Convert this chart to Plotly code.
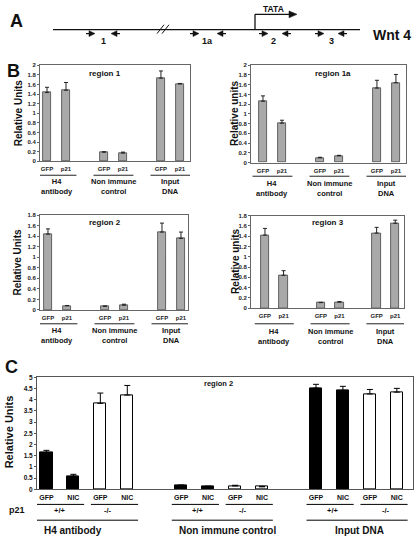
import plotly.graph_objects as go

W, H = 416, 538
def X(px): return px / W
def Y(py): return 1 - py / H

# ---------------- data ----------------
B_pos = [0, 1, 3, 4, 6, 7]
B_ticks = ["GFP", "p21", "GFP", "p21", "GFP", "p21"]
B_groups = ["H4<br>antibody", "Non immune<br>control", "Input<br>DNA"]
B_group_center = [0.5, 3.5, 6.5]

r1_vals = [1.43, 1.48, 0.19, 0.17, 1.73, 1.61]
r1_err = [0.11, 0.16, 0.005, 0.02, 0.15, 0.01]
r1a_vals = [1.26, 0.81, 0.10, 0.14, 1.53, 1.64]
r1a_err = [0.11, 0.06, 0.01, 0.01, 0.16, 0.17]
r2_vals = [1.44, 0.08, 0.07, 0.09, 1.48, 1.36]
r2_err = [0.10, 0.005, 0.005, 0.02, 0.17, 0.12]
r3_vals = [1.42, 0.64, 0.11, 0.12, 1.46, 1.65]
r3_err = [0.13, 0.09, 0.005, 0.01, 0.11, 0.06]

C_pos = [0, 1, 2, 3, 5, 6, 7, 8, 10, 11, 12, 13]
C_ticks = ["GFP", "NIC"] * 6
C_vals = [1.63, 0.59, 3.84, 4.21, 0.17, 0.12, 0.15, 0.11, 4.52, 4.42, 4.26, 4.34]
C_err = [0.11, 0.08, 0.46, 0.43, 0.02, 0.02, 0.03, 0.02, 0.17, 0.18, 0.20, 0.17]
C_fill = ["black", "black", "white", "white"] * 3
C_geno = ["+/+", "-/-"] * 3
C_geno_center = [0.5, 2.3, 5.6, 7.3, 10.6, 12.6]
C_groups = ["H4 antibody", "Non immune control", "Input DNA"]
C_group_center = [1.0, 6.7, 11.6]

FONT = "Arial, Liberation Sans, sans-serif"
GRAY = "#a9a9a9"

fig = go.Figure()
annotations = []
shapes = []
layout_axes = {}

def ann(x, y, text, size, xref="paper", yref="paper", angle=0, color="#111"):
    annotations.append(dict(x=x, y=y, xref=xref, yref=yref, text=text, showarrow=False,
                            xanchor="center", yanchor="middle", textangle=angle,
                            font=dict(size=size, family=FONT, color=color)))

# ---------------- panel B ----------------
panels = [
    (r1_vals, r1_err, "x", "y", (40, 190), (62, 159.3), [-0.37, 7.53], 2.0, "region 1", "Relative Units", (105, 70), 18,
     (167, 173.5, 185)),
    (r1a_vals, r1a_err, "x2", "y2", (251, 406), (62, 160.7), [-0.63, 7.53], 2.0, "region 1a", "Relative units", (333, 70), 235,
     (169, 174.5, 187)),
    (r2_vals, r2_err, "x3", "y3", (40, 188), (214, 310), [-0.42, 7.37], 1.8, "region 2", "Relative Units", (105, 221), 18,
     (317, 324, 336)),
    (r3_vals, r3_err, "x4", "y4", (251, 404), (214.3, 308.3), [-0.75, 7.47], 1.8, "region 3", "Relative units", (328, 221), 236,
     (315, 324, 337)),
]

for i, (vals, err, xa, ya, xd, yd, xr, ymax, title, ytitle, tpos, ytx, lab) in enumerate(panels):
    fig.add_trace(go.Bar(
        x=B_pos, y=vals, xaxis=xa, yaxis=ya, width=0.45,
        marker=dict(color=GRAY, line=dict(color="#444", width=0.8)),
        error_y=dict(type="data", array=err, arrayminus=[0] * len(err), symmetric=False,
                     color="#222", thickness=1, width=2),
        showlegend=False))
    xk = "xaxis" if xa == "x" else "xaxis" + xa[1:]
    yk = "yaxis" if ya == "y" else "yaxis" + ya[1:]
    layout_axes[xk] = dict(domain=[X(xd[0]), X(xd[1])], range=xr, anchor=ya,
                           tickvals=B_pos, ticktext=B_ticks, ticks="", ticklabelstandoff=2,
                           tickfont=dict(size=6, family=FONT, color="#222", weight="bold"),
                           showline=True, linecolor="#666", linewidth=1, mirror=True,
                           showgrid=False, zeroline=False, fixedrange=True)
    layout_axes[yk] = dict(domain=[Y(yd[1]), Y(yd[0])], range=[0, ymax], anchor=xa,
                           dtick=0.2, ticks="outside", ticklen=2, tickcolor="#666",
                           tickfont=dict(size=6, family=FONT, color="#222", weight="bold"),
                           showline=True, linecolor="#666", linewidth=1, mirror=True,
                           showgrid=False, zeroline=False, fixedrange=True)
    ann(X(tpos[0]), Y(tpos[1]), "<b>%s</b>" % title, 8)
    ann(X(ytx), Y((yd[0] + yd[1]) / 2), "<b>%s</b>" % ytitle, 10, angle=-90)
    for g, gc in zip(B_groups, B_group_center):
        shapes.append(dict(type="line", xref=xa, yref="paper", x0=gc - 1.05, x1=gc + 1.05,
                           y0=Y(lab[1]), y1=Y(lab[1]), line=dict(color="#222", width=1)))
        ann(gc, Y(lab[2]), "<b>%s</b>" % g, 7.5, xref=xa)

# ---------------- panel C ----------------
fig.add_trace(go.Bar(
    x=C_pos, y=C_vals, xaxis="x5", yaxis="y5", width=0.45,
    marker=dict(color=C_fill, line=dict(color="black", width=1)),
    error_y=dict(type="data", array=C_err, arrayminus=[0] * len(C_err), symmetric=False,
                 color="black", thickness=1, width=3),
    showlegend=False))
layout_axes["xaxis5"] = dict(domain=[X(37), X(413)], range=[-0.35, 13.6], anchor="y5",
                             tickvals=C_pos, ticktext=C_ticks, ticks="", ticklabelstandoff=1,
                             tickfont=dict(size=7, family=FONT, color="#111", weight="bold"),
                             showline=True, linecolor="#555", linewidth=1, mirror=True,
                             showgrid=False, zeroline=False, fixedrange=True)
layout_axes["yaxis5"] = dict(domain=[Y(491.7), Y(378.3)], range=[0, 5], anchor="x5",
                             dtick=0.5, ticks="outside", ticklen=2, tickcolor="#555",
                             tickfont=dict(size=6.5, family=FONT, color="#111", weight="bold"),
                             showline=True, linecolor="#555", linewidth=1, mirror=True,
                             showgrid=False, zeroline=False, fixedrange=True)
ann(X(218), Y(385), "<b>region 2</b>", 7.5)
ann(X(9), Y(434), "<b>Relative Units</b>", 11, angle=-90)
ann(X(17), Y(513), "<b>p21</b>", 9)
pair_starts = [0, 2, 5, 7, 10, 12]
for ps, gt, gc in zip(pair_starts, C_geno, C_geno_center):
    shapes.append(dict(type="line", xref="x5", yref="paper", x0=ps - 0.35, x1=ps + 1.4,
                       y0=Y(507), y1=Y(507), line=dict(color="black", width=1)))
    ann(gc, Y(513.5), "<b>%s</b>" % gt, 7.5, xref="x5")
for gs, g, gc in zip([0, 5, 10], C_groups, C_group_center):
    shapes.append(dict(type="line", xref="x5", yref="paper", x0=gs - 0.35, x1=gs + 3.4,
                       y0=Y(523), y1=Y(523), line=dict(color="black", width=1)))
    ann(gc, Y(533), "<b>%s</b>" % g, 10, xref="x5")

# ---------------- panel A (diagram) ----------------
def pline(x0, y0, x1, y1, w=1.2):
    shapes.append(dict(type="line", xref="paper", yref="paper", x0=X(x0), y0=Y(y0),
                       x1=X(x1), y1=Y(y1), line=dict(color="#111", width=w)))

def tri(pts):
    p = "M " + " L ".join("%f,%f" % (X(a), Y(b)) for a, b in pts) + " Z"
    shapes.append(dict(type="path", xref="paper", yref="paper", path=p,
                       fillcolor="#111", line=dict(color="#111", width=0.5)))

pline(53, 26, 360, 26, 1.3)
pline(157, 30, 164, 21, 1)
pline(162, 30, 169, 21, 1)
pline(255, 26, 255, 10.5, 1.3)
pline(255, 10.5, 290, 10.5, 1.3)
tri([(289, 7), (297, 10.5), (289, 14)])

def right_arrow(x, y=30):
    pline(x, y, x + 4, y, 1.2)
    tri([(x + 3, y - 3), (x + 9, y), (x + 3, y + 3)])

def left_arrow(x, y=30):
    pline(x + 5, y, x + 9, y, 1.2)
    tri([(x + 6, y - 3), (x, y), (x + 6, y + 3)])

primer_labels = ["1", "1a", "2", "3"]
for (rx, lx, tx), lab in zip([(86, 111, 103), (190, 217, 207), (259, 282, 273), (315, 338, 331)], primer_labels):
    right_arrow(rx)
    left_arrow(lx)
    ann(X(tx), Y(37.5), "<b>%s</b>" % lab, 9)

ann(X(273), Y(5), "<b>TATA</b>", 8.5)
ann(X(392), Y(31), "<b>Wnt 4</b>", 14)
for lab, lx, ly in [("A", 16, 17), ("B", 13, 68), ("C", 11, 368)]:
    ann(X(lx), Y(ly), "<b>%s</b>" % lab, 18)

fig.update_layout(width=W, height=H, margin=dict(l=0, r=0, t=0, b=0),
                  paper_bgcolor="white", plot_bgcolor="white",
                  annotations=annotations, shapes=shapes, bargap=0,
                  font=dict(family=FONT), **layout_axes)

fig.write_html("out.html", config={"displayModeBar": False},
               post_script="document.body.style.margin='0';document.body.style.overflow='hidden';")
